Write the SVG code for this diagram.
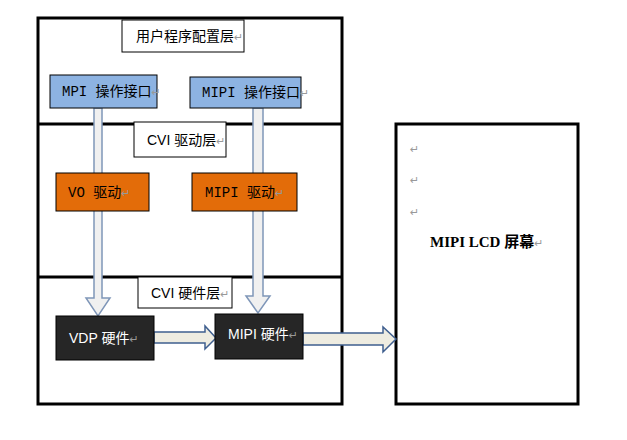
<svg xmlns="http://www.w3.org/2000/svg" width="627" height="440" viewBox="0 0 627 440">
<style>
.frame{fill:none;stroke:#000;stroke-width:3}
.lbl{fill:#fff;stroke:#000;stroke-width:1}
.t{font-family:"Liberation Sans","Noto Sans CJK SC",sans-serif;font-size:14px}
.m{font-family:"Liberation Mono","Noto Sans CJK SC",monospace;font-size:14px}
.r{fill:#999;font-family:"DejaVu Sans",sans-serif;font-size:11px}
.va{fill:#f0f0f0;stroke:#7f96b8;stroke-width:1.5}
.ha{fill:#eeece1;stroke:#3f5f8f;stroke-width:1.5}
</style>
<rect width="627" height="440" fill="#fff"/>
<g id="frames">
<rect class="frame" x="38" y="18" width="304" height="386"/>
<line class="frame" x1="38" y1="124" x2="342" y2="124"/>
<line class="frame" x1="38" y1="277" x2="342" y2="277"/>
<rect class="frame" x="396" y="124" width="182" height="280"/>
</g>
<g id="connectors">
<path class="va" d="M94,108 H102 V298 H110 L98,316 L86,298 H94 Z"/>
<path class="va" d="M253,108 H263 V296 H270 L258,313 L246,296 H253 Z"/>
<path class="ha" d="M154,332 H205 V326 L216,338 L205,349 V343 H154 Z"/>
<path class="ha" d="M303,333 H383 V327 L396,339 L383,352 V345 H303 Z"/>
</g>
<g id="layer-user"><rect class="lbl" x="122" y="20" width="122" height="32"/><text class="t" x="136" y="41">用户程序配置层<tspan class="r">↵</tspan></text></g>
<g id="layer-cvi-drv"><rect class="lbl" x="134" y="122" width="92" height="35"/><text class="t" x="147" y="145">CVI 驱动层<tspan class="r">↵</tspan></text></g>
<g id="layer-cvi-hw"><rect class="lbl" x="138" y="277" width="94" height="31"/><text class="t" x="151" y="298">CVI 硬件层<tspan class="r">↵</tspan></text></g>
<g id="mpi-api"><rect x="50" y="75" width="107" height="33" fill="#8db3e2" stroke="#000"/><text class="m" x="62" y="96" font-size="12">MPI <tspan class="t">操作接口</tspan><tspan class="r">↵</tspan></text></g>
<g id="mipi-api"><rect x="190" y="77" width="111" height="31" fill="#8db3e2" stroke="#000"/><text class="m" x="202" y="97" font-size="12">MIPI <tspan class="t">操作接口</tspan><tspan class="r">↵</tspan></text></g>
<g id="vo-drv"><rect x="56" y="173" width="93" height="38" fill="#e36c09" stroke="#000"/><text class="m" x="68" y="197">VO <tspan class="t">驱动</tspan><tspan class="r">↵</tspan></text></g>
<g id="mipi-drv"><rect x="192" y="173" width="105" height="38" fill="#e36c09" stroke="#000"/><text class="m" x="205" y="197">MIPI  <tspan class="t">驱动</tspan><tspan class="r">↵</tspan></text></g>
<g id="vdp-hw"><rect x="56" y="316" width="98" height="44" fill="#262626" stroke="#000"/><text class="t" x="69" y="343" fill="#fff" font-size="15">VDP 硬件<tspan class="r">↵</tspan></text></g>
<g id="mipi-hw"><rect x="215" y="314" width="88" height="45" fill="#262626" stroke="#000"/><text class="t" x="228" y="339" fill="#fff" font-size="15">MIPI 硬件<tspan class="r">↵</tspan></text></g>
<g id="lcd">
<text class="r" x="410" y="153">↵</text><text class="r" x="410" y="184">↵</text><text class="r" x="410" y="216">↵</text>
<text x="430" y="247" font-family="Liberation Serif,Noto Sans CJK SC,serif" font-size="15" font-weight="bold">MIPI LCD <tspan font-family="Noto Sans CJK SC,sans-serif">屏幕</tspan><tspan class="r" font-weight="normal">↵</tspan></text>
</g>
</svg>
